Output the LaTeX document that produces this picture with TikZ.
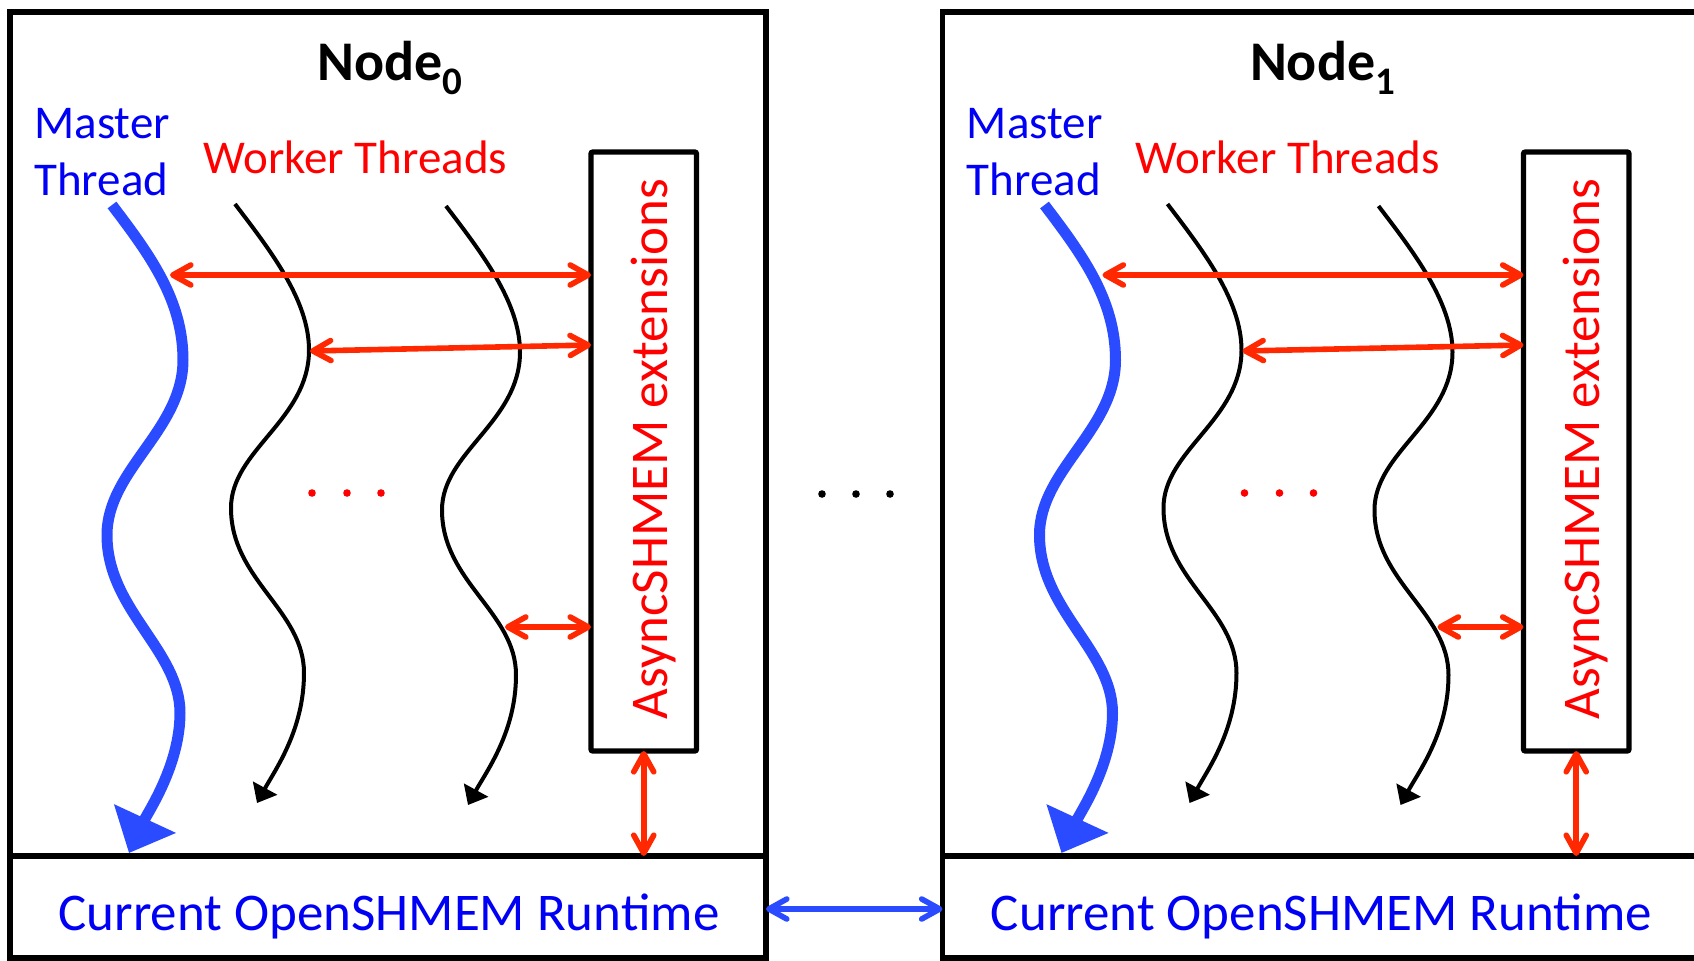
\documentclass[tikz,border=0pt]{standalone}
\usepackage{fontspec}
\setmainfont{Carlito}
\usetikzlibrary{arrows.meta}

\definecolor{txtblue}{RGB}{0,0,245}
\definecolor{thrblue}{RGB}{42,75,255}
\definecolor{txtred}{RGB}{255,0,0}
\definecolor{arrred}{RGB}{255,40,0}

\tikzset{
  frame/.style={line width=2.8pt, line join=miter},
  extbox/.style={draw, line width=2.7pt, rounded corners=1pt, inner sep=0pt, outer sep=0pt,
    minimum width=52.75pt, minimum height=299.5pt},
  titletext/.style={inner sep=0pt, font=\fontsize{28}{30}\selectfont\bfseries},
  bluetext/.style={inner sep=0pt, text=txtblue, font=\fontsize{23.5}{28}\selectfont},
  redtext/.style={inner sep=0pt, text=txtred, font=\fontsize{23.5}{28}\selectfont},
  exttext/.style={inner sep=0pt, text=txtred, font=\fontsize{26.5}{30}\selectfont},
  rttext/.style={inner sep=0pt, text=txtblue, font=\fontsize{26.5}{30}\selectfont},
  master/.style={draw=thrblue, line width=5.5pt, -{Triangle[length=19pt,width=33pt]}},
  worker/.style={draw=black, line width=2pt, -{Triangle[length=8.5pt,width=13.5pt]}},
  redlink/.style={draw=arrred, line width=2.8pt,
    {Straight Barb[length=9pt,width=10pt,round]}-{Straight Barb[length=9pt,width=10pt,round]}},
  bluelink/.style={draw=thrblue, line width=2.8pt,
    {Straight Barb[length=9pt,width=10pt,round]}-{Straight Barb[length=9pt,width=10pt,round]}},
}

% One compute node: title, master/worker threads, extension box, runtime label
\newcommand{\threadpanel}[2]{%
\begin{scope}[shift={(#2,0)}]
  \node[titletext, anchor=base] (title#1) at (390,80)
    {Node\raisebox{-7pt}{\fontsize{19.5}{19.5}\selectfont #1}};
  \node[bluetext, anchor=base west] (mta#1) at (34,138) {Master};
  \node[bluetext, anchor=base west] (mtb#1) at (34,195) {Thread};
  \node[redtext, anchor=base west] (wt#1) at (203,173) {Worker Threads};
  % extension layer
  \node[extbox] (ext#1) at (643.75,451.5) {};
  \node[exttext, rotate=90, anchor=base] (extlbl#1) at (667,449) {AsyncSHMEM extensions};
  % master thread
  \coordinate (ms#1) at (112,205);
  \coordinate (me#1) at (129,853);
  \draw[master] (ms#1) .. controls (150,255) and (183,300) .. (183,360)
    .. controls (183,430) and (107,470) .. (107,535)
    .. controls (107,610) and (180,650) .. (180,713)
    .. controls (180,765) and (148,812) .. (me#1);
  % worker threads
  \coordinate (wa#1) at (235,204);
  \coordinate (wae#1) at (257,803);
  \draw[worker] (wa#1) .. controls (270,250) and (309,300) .. (309,350)
    .. controls (309,420) and (231,450) .. (231,508)
    .. controls (231,580) and (304,610) .. (304,673)
    .. controls (304,730) and (275,770) .. (wae#1);
  \coordinate (wb#1) at (446,206);
  \coordinate (wbe#1) at (468,805);
  \draw[worker] (wb#1) .. controls (481,252) and (520,302) .. (520,352)
    .. controls (520,422) and (442,452) .. (442,510)
    .. controls (442,582) and (516,612) .. (516,675)
    .. controls (516,732) and (486,772) .. (wbe#1);
  % more worker threads
  \fill[txtred] (312,493) circle[radius=1.9pt] (347,493) circle[radius=1.9pt]
    (381,493) circle[radius=1.9pt];
  % thread <-> extension links
  \coordinate (la#1) at (170,275);
  \coordinate (lb#1) at (310,351);
  \coordinate (lbe#1) at (591,345);
  \coordinate (lc#1) at (505,627);
  \coordinate (sep#1) at (10,856);
  \draw[redlink] (la#1) -- (la#1 -| ext#1.west);
  \draw[redlink] (lb#1) -- (lbe#1);
  \draw[redlink] (lc#1) -- (lc#1 -| ext#1.west);
  \draw[redlink] (ext#1.south) -- (ext#1.south |- sep#1);
  % runtime label
  \node[rttext, anchor=base] (rt#1) at (389,930) {Current OpenSHMEM Runtime};
\end{scope}}

\begin{document}
\begin{tikzpicture}[x=0.5pt, y=-0.5pt]
  \useasboundingbox (0,0) rectangle (1694,960);
  % frames
  \draw[frame] (10,12) rectangle (766,958);
  \draw[frame] (10,856) -- (766,856);
  \draw[frame] (1694,12) -- (942.5,12) -- (942.5,958) -- (1694,958);
  \draw[frame] (942.5,856) -- (1694,856);
  \threadpanel{0}{0}
  \threadpanel{1}{932.5}
  % further nodes
  \fill[black] (822,494) circle[radius=1.9pt] (856,494) circle[radius=1.9pt]
    (890,494) circle[radius=1.9pt];
  % runtime <-> runtime link
  \coordinate (rr0) at (766,909);
  \coordinate (rl1) at (942.5,909);
  \draw[bluelink] (rr0) -- (rl1);
\end{tikzpicture}
\end{document}
